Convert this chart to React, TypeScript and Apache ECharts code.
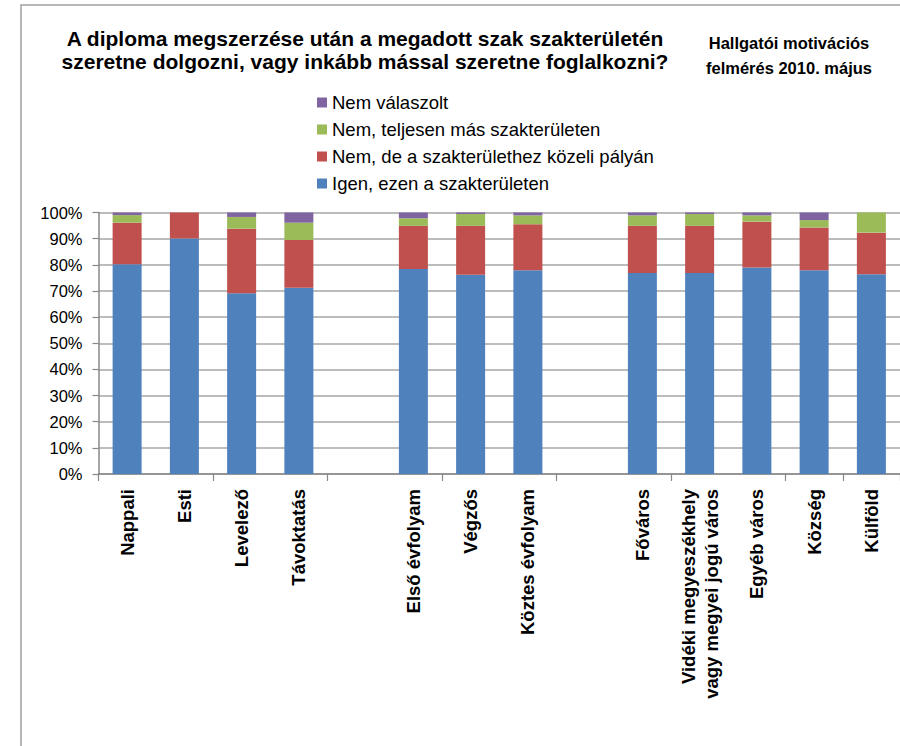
import React, { useEffect, useRef } from "react";
import * as echarts from "echarts";

const categories = [
  "Nappali", "Esti", "Levelező", "Távoktatás", "",
  "Első évfolyam", "Végzős", "Köztes évfolyam", "",
  "Főváros", "Vidéki megyeszékhely\nvagy megyei jogú város", "Egyéb város", "Község", "Külföld",
];

const seriesNames = [
  "Igen, ezen a szakterületen",
  "Nem, de a szakterülethez közeli pályán",
  "Nem, teljesen más szakterületen",
  "Nem válaszolt",
];

const igen = [80.2, 90.1, 69.1, 71.2, null, 78.4, 76.2, 77.9, null, 76.9, 76.9, 79.0, 77.9, 76.4];
const kozeli = [15.9, 9.9, 24.7, 18.3, null, 16.5, 18.7, 17.6, null, 18.0, 18.0, 17.5, 16.4, 15.9];
const mas = [2.9, 0, 4.5, 6.6, null, 2.9, 4.5, 3.4, null, 4.0, 4.5, 2.4, 2.8, 7.7];
const nemValaszolt = [1.0, 0, 1.7, 3.9, null, 2.2, 0.6, 1.1, null, 1.1, 0.6, 1.1, 2.9, 0];

const seriesValues = [igen, kozeli, mas, nemValaszolt];
const colors = ["#4f81bd", "#c0504d", "#9bbb59", "#8064a2"];

const yTicks = { min: 0, max: 100, interval: 10 };

export default function App() {
  const ref = useRef<HTMLDivElement>(null);
  useEffect(() => {
    if (!ref.current) return;
    const chart = echarts.init(ref.current, undefined, { renderer: "svg" });
    chart.setOption({
      animation: false,
      textStyle: { fontFamily: "Liberation Sans, Arial, sans-serif" },
      graphic: [
        {
          type: "rect",
          shape: { x: 21, y: 5, width: 900, height: 800 },
          style: { fill: "none", stroke: "#a0a0a0", lineWidth: 1.5 },
          silent: true,
        },
        {
          type: "text",
          x: 365,
          y: 27,
          style: {
            text: "A diploma megszerzése után a megadott szak szakterületén\nszeretne dolgozni, vagy inkább mással szeretne foglalkozni?",
            font: "bold 21px Liberation Sans, Arial, sans-serif",
            fill: "#000",
            align: "center",
            lineHeight: 23,
          },
        },
        {
          type: "text",
          x: 789,
          y: 30,
          style: {
            text: "Hallgatói motivációs\nfelmérés 2010. május",
            font: "bold 16.5px Liberation Sans, Arial, sans-serif",
            fill: "#000",
            align: "center",
            lineHeight: 25,
          },
        },
      ],
      legend: {
        orient: "vertical",
        left: 312,
        top: 88,
        itemWidth: 10,
        itemHeight: 10,
        itemGap: 8,
        icon: "rect",
        data: [...seriesNames].reverse(),
        textStyle: {
          fontSize: 18.5,
          lineHeight: 18,
          color: "#000",
          fontFamily: "Liberation Sans, Arial, sans-serif",
        },
      },
      grid: { left: 98.5, right: -3, top: 212.5, bottom: 272, containLabel: false },
      xAxis: {
        type: "category",
        data: categories,
        axisLine: { lineStyle: { color: "#888", width: 1.5 } },
        axisTick: { show: true, interval: 1, length: 7, lineStyle: { color: "#888", width: 1.2 } },
        axisLabel: {
          interval: 0,
          rotate: 90,
          margin: 15,
          fontWeight: "bold",
          fontSize: 18.5,
          color: "#000",
          lineHeight: 23,
          fontFamily: "Liberation Sans, Arial, sans-serif",
        },
      },
      yAxis: {
        type: "value",
        min: yTicks.min,
        max: yTicks.max,
        interval: yTicks.interval,
        axisLine: { show: true, lineStyle: { color: "#888", width: 1.5 } },
        axisTick: { show: true, length: 6, lineStyle: { color: "#888", width: 1.2 } },
        axisLabel: { formatter: "{value}%", fontSize: 16.5, color: "#000", margin: 16 },
        splitLine: { lineStyle: { color: "#a6a6a6", width: 1.6 } },
      },
      series: seriesNames.map((name, i) => ({
        name,
        type: "bar",
        stack: "total",
        barWidth: 29,
        data: seriesValues[i],
        itemStyle: { color: colors[i] },
      })),
    });
    return () => chart.dispose();
  }, []);
  return (
    <div
      ref={ref}
      style={{ position: "absolute", left: 0, top: 0, width: 900, height: 746, background: "#fff" }}
    />
  );
}
